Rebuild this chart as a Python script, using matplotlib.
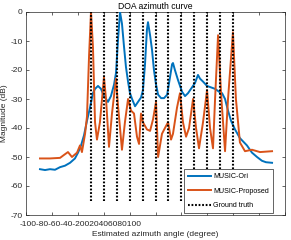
import numpy as np
import matplotlib
matplotlib.use("Agg")
import matplotlib.pyplot as plt

plt.rcParams['font.family'] = ['Liberation Sans', 'DejaVu Sans']
plt.rcParams['axes.unicode_minus'] = False

# ---- data ----
ori_x = [-89.2, -85.3, -81.5, -77.6, -73.7, -69.9, -66.0, -62.2, -59.8, -57.5, -55.2, -52.9,
         -50.6, -48.3, -46.7, -44.4, -42.1, -39.8, -38.2, -36.7, -34.4, -32.0, -30.5, -29.0,
         -27.4, -25.9, -24.3, -22.8, -21.2, -19.7, -18.1, -15.8, -13.5, -11.2, -9.7, -8.1,
         -6.6, -5.8, -4.2, -2.7, -1.2, 0.4, 2.0, 4.3, 6.6, 9.0, 11.2, 12.8, 13.5, 15.0, 17.4,
         20.5, 22.8, 25.1, 27.4, 30.5, 32.8, 34.4, 36.7, 39.8, 42.9, 46.0, 49.1, 51.4, 53.7,
         56.0, 58.3, 61.4, 65.2, 70.6, 74.5, 78.4, 82.2, 85.3, 90.0]
ori_y = [-54.2, -54.5, -54.2, -54.4, -53.5, -53.0, -52.0, -50.5, -48.5, -46.0, -42.5, -37.5,
         -33.0, -28.0, -26.5, -25.5, -26.5, -29.0, -30.0, -31.0, -29.0, -25.0, -21.0, -10.0,
         0.0, -4.0, -12.0, -19.0, -24.0, -28.0, -30.0, -32.5, -31.0, -29.5, -27.0, -18.0,
         -6.0, -3.5, -8.0, -13.0, -20.0, -25.0, -28.5, -29.7, -29.7, -28.5, -22.5, -18.0, -17.6,
         -20.0, -23.5, -27.5, -29.0, -28.0, -26.5, -24.5, -21.7, -23.0, -24.0, -25.5, -26.0,
         -26.5, -27.5, -28.0, -30.0, -34.0, -37.5, -40.5, -43.5, -46.0, -48.5, -50.0, -51.3,
         -51.8, -52.0]

prop_x = [-89.2, -81.5, -73.7, -70.7, -67.6, -64.5, -60.6, -58.3, -56.8, -54.4, -52.9, -51.3,
          -49.8, -48.3, -46.7, -45.2, -42.9, -41.3, -39.8, -38.2, -35.9, -33.6, -30.5, -29.0,
          -25.9, -23.6, -21.2, -18.9, -16.6, -14.3, -12.7, -11.2, -9.7, -6.6, -4.2, -1.9, 0.4,
          2.0, 5.0, 7.3, 9.7, 12.0, 13.5, 16.6, 18.9, 21.2, 23.6, 25.9, 29.0, 31.3, 33.6, 36.7,
          39.8, 42.1, 44.4, 46.0, 48.3, 50.6, 53.7, 56.0, 59.8, 62.1, 65.2, 69.1, 74.5, 80.7, 90.0]
prop_y = [-50.5, -50.5, -50.3, -49.3, -48.3, -50.0, -48.5, -46.0, -48.3, -42.0, -36.0, -15.0,
          0.0, -12.0, -38.0, -44.0, -38.0, -30.0, -22.5, -30.0, -46.5, -35.0, -23.0, -32.0,
          -47.5, -38.0, -30.0, -34.0, -35.0, -43.0, -45.5, -35.0, -38.0, -40.5, -41.0, -37.0, -31.0,
          -50.0, -42.0, -40.0, -38.0, -44.0, -42.0, -33.0, -28.0, -38.0, -43.0, -40.0, -30.0, -40.0,
          -47.0, -38.0, -27.0, -40.0, -47.0, -30.0, -8.0, -28.0, -48.0, -30.0, -7.0, -30.0, -45.0,
          -48.0, -47.5, -48.3, -48.0]

truth = [-50, -40, -30, -20, -10, 0, 10, 20, 30, 40, 50, 60]
truth_bottom = -65
truth_top = 0

x_ticks = [-100, -80, -60, -40, -20, 0, 20, 40, 60, 80, 100]
x_ticklabels = ['-100', '-80', '-60', '-40', '-20', '0', '20', '40', '60', '80', '100']
y_ticks = [-70, -60, -50, -40, -30, -20, -10, 0]

blue = '#0072BD'
orange = '#D95319'
axcol = '#262626'

fig = plt.figure(figsize=(2.91, 2.40), dpi=100)
ax = fig.add_axes([26 / 291, 25 / 240, 259 / 291, 203 / 240])

ax.plot(ori_x, ori_y, color=blue, lw=1.4, label='MUSIC-Ori', zorder=3)
ax.plot(prop_x, prop_y, color=orange, lw=1.4, label='MUSIC-Proposed', zorder=3)
for i, t in enumerate(truth):
    ax.plot([t, t], [truth_bottom, truth_top], color='black', lw=1.5,
            linestyle=(0, (0.85, 0.85)), dash_capstyle='butt',
            label='Ground truth' if i == 0 else None, zorder=4)

ax.set_xlim(-100, 100)
ax.set_ylim(-70, 0)
ax.set_xticks(x_ticks)
ax.set_xticklabels([])
ax.set_yticks(y_ticks)
ax.tick_params(direction='in', length=2.5, width=0.5, colors=axcol, labelsize=6,
               top=True, right=True, pad=2.5)
for s in ax.spines.values():
    s.set_linewidth(0.5)
    s.set_color(axcol)

# squeezed x tick labels as in the reference
ax.text((20 - 26) / 259, -(225 - 215) / 203, ''.join(x_ticklabels), transform=ax.transAxes,
        ha='left', va='center', fontsize=6, color=axcol)

ax.set_title('DOA azimuth curve', fontsize=6.2, color='black', pad=2)
ax.set_xlabel('Estimated azimuth angle (degree)', fontsize=6, color=axcol, labelpad=9)
ax.set_ylabel('Magnitude (dB)', fontsize=6, color=axcol, labelpad=1.5)

leg = ax.legend(loc='lower right', bbox_to_anchor=(273 / 291, 27 / 240),
                bbox_transform=fig.transFigure, fontsize=5.1, frameon=True, fancybox=False,
                framealpha=1, edgecolor=axcol, handlelength=3.3, handletextpad=0.35,
                labelspacing=1.05, borderpad=0.55, borderaxespad=0)
leg.get_frame().set_linewidth(0.5)

fig.savefig('out.png', dpi=100)
